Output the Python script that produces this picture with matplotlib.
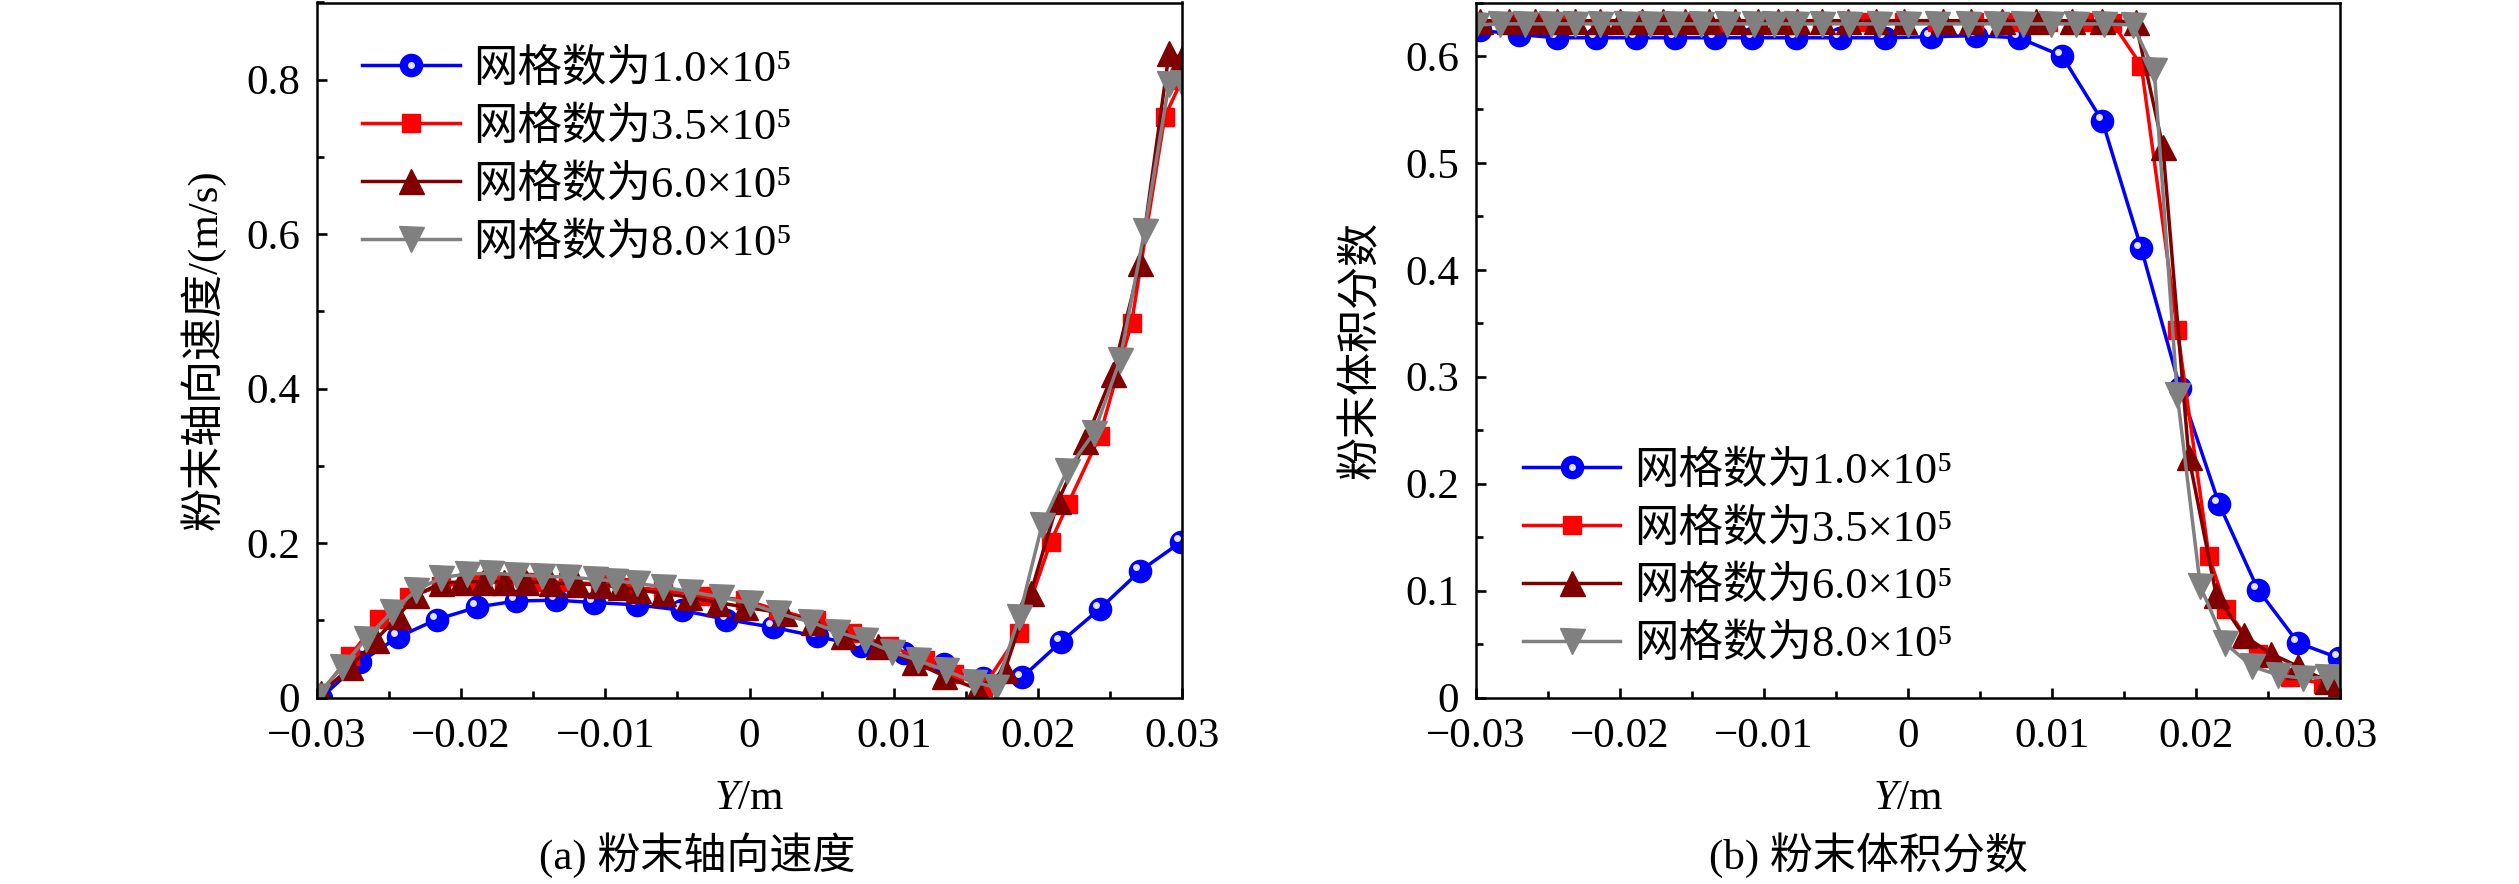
import matplotlib
matplotlib.use("Agg")
import matplotlib.pyplot as plt
from matplotlib.ticker import MultipleLocator, FuncFormatter
from matplotlib.transforms import ScaledTranslation

plt.rcParams['font.family'] = ['Liberation Serif', 'Noto Sans CJK SC', 'DejaVu Sans']
plt.rcParams['mathtext.fontset'] = 'custom'
plt.rcParams['mathtext.rm'] = 'Liberation Serif'
plt.rcParams['mathtext.it'] = 'Liberation Serif:italic'

labels = ['网格数为1.0×10⁵', '网格数为3.5×10⁵', '网格数为6.0×10⁵', '网格数为8.0×10⁵']

# mesh 1.0e5
blue_x = [-0.0297, -0.0270, -0.0244, -0.0217, -0.0189, -0.0162, -0.0134, -0.0108, -0.0078, -0.0047, -0.0016,
          0.0016, 0.0047, 0.0077, 0.0107, 0.0135, 0.0162, 0.0189, 0.0216, 0.0243, 0.0271, 0.0299]
blue_vel = [0.000, 0.046, 0.078, 0.101, 0.117, 0.125, 0.126, 0.123, 0.120, 0.113, 0.101,
            0.091, 0.079, 0.067, 0.057, 0.044, 0.025, 0.026, 0.072, 0.115, 0.164, 0.201]
blue_vf = [0.624, 0.620, 0.617, 0.617, 0.617, 0.617, 0.617, 0.617, 0.617, 0.617, 0.617,
           0.618, 0.619, 0.617, 0.600, 0.539, 0.420, 0.289, 0.181, 0.101, 0.051, 0.037]

# mesh 3.5e5
red_x = [-0.0300, -0.0277, -0.0257, -0.0236, -0.0214, -0.0192, -0.0170, -0.0148, -0.0126, -0.0104,
         -0.0082, -0.0060, -0.0031, -0.0003, 0.0020, 0.0046, 0.0071, 0.0097, 0.0122, 0.0142,
         0.0162, 0.0187, 0.0209, 0.0221, 0.0243, 0.0265, 0.0288, 0.0300]
red_vel = [0.000, 0.054, 0.102, 0.130, 0.145, 0.148, 0.150, 0.150, 0.149, 0.147,
           0.143, 0.139, 0.132, 0.126, 0.113, 0.100, 0.083, 0.067, 0.048, 0.031,
           0.013, 0.083, 0.202, 0.251, 0.339, 0.485, 0.752, 0.800]
red_vf = [0.632, 0.632, 0.632, 0.632, 0.632, 0.632, 0.632, 0.632, 0.632, 0.632,
          0.632, 0.632, 0.632, 0.632, 0.632, 0.632, 0.632, 0.632, 0.632, 0.631,
          0.591, 0.344, 0.132, 0.083, 0.041, 0.019, 0.013, 0.012]

# mesh 6.0e5
dark_x = [-0.0297, -0.0277, -0.0259, -0.0244, -0.0231, -0.0214, -0.0200, -0.0185, -0.0170, -0.0155,
          -0.0138, -0.0120, -0.0104, -0.0090, -0.0077, -0.0060, -0.0042, -0.0022, -0.0003, 0.0024,
          0.0044, 0.0065, 0.0089, 0.0114, 0.0135, 0.0158, 0.0177, 0.0195, 0.0214, 0.0233,
          0.0252, 0.0271, 0.0291, 0.0300]
dark_vel = [0.006, 0.039, 0.075, 0.105, 0.133, 0.148, 0.150, 0.150, 0.150, 0.150,
            0.148, 0.147, 0.146, 0.143, 0.139, 0.135, 0.130, 0.123, 0.117, 0.109,
            0.098, 0.080, 0.067, 0.046, 0.028, 0.011, 0.035, 0.135, 0.254, 0.332,
            0.419, 0.563, 0.834, 0.828]
dark_vf = [0.633, 0.633, 0.633, 0.633, 0.633, 0.633, 0.633, 0.633, 0.633, 0.633,
           0.633, 0.633, 0.633, 0.633, 0.633, 0.633, 0.633, 0.633, 0.633, 0.633,
           0.633, 0.633, 0.633, 0.633, 0.633, 0.632, 0.515, 0.225, 0.096, 0.058,
           0.041, 0.029, 0.015, 0.014]

# mesh 8.0e5
gray_x = [-0.0300, -0.0283, -0.0266, -0.0248, -0.0231, -0.0214, -0.0196, -0.0179, -0.0162, -0.0144,
          -0.0126, -0.0107, -0.0093, -0.0078, -0.0060, -0.0041, -0.0020, 0.0000, 0.0020, 0.0042,
          0.0061, 0.0080, 0.0099, 0.0117, 0.0136, 0.0156, 0.0171, 0.0187, 0.0203, 0.0220,
          0.0239, 0.0257, 0.0274, 0.0291, 0.0300]
gray_vel = [0.002, 0.039, 0.076, 0.111, 0.139, 0.155, 0.160, 0.161, 0.159, 0.157,
            0.156, 0.153, 0.151, 0.148, 0.143, 0.137, 0.130, 0.122, 0.109, 0.098,
            0.085, 0.074, 0.059, 0.048, 0.035, 0.020, 0.013, 0.104, 0.224, 0.293,
            0.343, 0.437, 0.604, 0.795, 0.796]
gray_vf = [0.629, 0.630, 0.630, 0.630, 0.630, 0.630, 0.630, 0.630, 0.630, 0.630,
           0.630, 0.630, 0.630, 0.630, 0.630, 0.630, 0.630, 0.630, 0.630, 0.630,
           0.630, 0.630, 0.630, 0.630, 0.630, 0.629, 0.587, 0.283, 0.104, 0.051,
           0.029, 0.021, 0.018, 0.019, 0.019]

FS = 31


def tick_fmt(v, pos):
    if abs(v) < 1e-9:
        return '0'
    return ('%g' % v).replace('-', '\u2212')


fig = plt.figure(figsize=(25.19, 8.84), dpi=100)
ax1 = fig.add_axes([317 / 2519, 186.5 / 884, 865 / 2519, 695 / 884])
ax2 = fig.add_axes([1476 / 2519, 186.5 / 884, 864 / 2519, 695 / 884])

# small light spot shifted up-left gives the blue balls their glossy look
hl = ScaledTranslation(-2.8 / 72, 2.8 / 72, fig.dpi_scale_trans)


def draw(ax, yb, yr, yd, yg):
    l1, = ax.plot(blue_x, yb, '-o', color='#0000ff', ms=16, lw=2.5, mec='#0000ff')
    h1, = ax.plot(blue_x, yb, 'o', ls='none', ms=5, color='#dfe5ff', mec='none',
                  transform=ax.transData + hl)
    l2, = ax.plot(red_x, yr, '-s', color='#ff0000', ms=12.5, lw=2.5)
    l3, = ax.plot(dark_x, yd, '-^', color='#800000', ms=18, lw=2.5)
    l4, = ax.plot(gray_x, yg, '-v', color='#808080', ms=18, lw=2.5)
    ax.set_xlim(-0.03, 0.03)
    ax.xaxis.set_major_locator(MultipleLocator(0.01))
    ax.xaxis.set_minor_locator(MultipleLocator(0.005))
    ax.xaxis.set_major_formatter(FuncFormatter(tick_fmt))
    ax.yaxis.set_major_formatter(FuncFormatter(tick_fmt))
    ax.tick_params(which='both', direction='in', top=False, right=False,
                   labelsize=FS, width=1.9)
    ax.tick_params(axis='x', pad=14.5)
    ax.tick_params(axis='y', pad=12)
    ax.tick_params(which='major', length=7)
    ax.tick_params(which='minor', length=5.3)
    for s in ax.spines.values():
        s.set_linewidth(1.8)
    ax.set_xlabel('$Y$/m', fontsize=FS)
    ax.xaxis.set_label_coords(0.5, -0.118)
    return [(l1, h1), l2, l3, l4]


handles = draw(ax1, blue_vel, red_vel, dark_vel, gray_vel)
ax1.set_ylim(0, 0.9)
ax1.yaxis.set_major_locator(MultipleLocator(0.2))
ax1.yaxis.set_minor_locator(MultipleLocator(0.1))
ax1.set_ylabel('粉末轴向速度/(m/s)', fontsize=FS)
ax1.yaxis.set_label_coords(-0.106, 0.5)
ax1.legend(handles, labels, loc='upper left', bbox_to_anchor=(0.052, 0.934),
           frameon=False, fontsize=32, handlelength=2.2, handletextpad=0.3,
           labelspacing=0.37, borderpad=0, borderaxespad=0)

handles = draw(ax2, blue_vf, red_vf, dark_vf, gray_vf)
ax2.set_ylim(0, 0.65)
ax2.yaxis.set_major_locator(MultipleLocator(0.1))
ax2.yaxis.set_minor_locator(MultipleLocator(0.05))
ax2.set_ylabel('粉末体积分数', fontsize=FS)
ax2.yaxis.set_label_coords(-0.109, 0.5)
ax2.legend(handles, labels, loc='upper left', bbox_to_anchor=(0.054, 0.356),
           frameon=False, fontsize=32, handlelength=2.2, handletextpad=0.3,
           labelspacing=0.37, borderpad=0, borderaxespad=0)

fig.text(697 / 2519, 29 / 884, '(a) 粉末轴向速度', ha='center', va='center', fontsize=FS)
fig.text(1868 / 2519, 29 / 884, '(b) 粉末体积分数', ha='center', va='center', fontsize=FS)

fig.savefig('out.png', dpi=100)
